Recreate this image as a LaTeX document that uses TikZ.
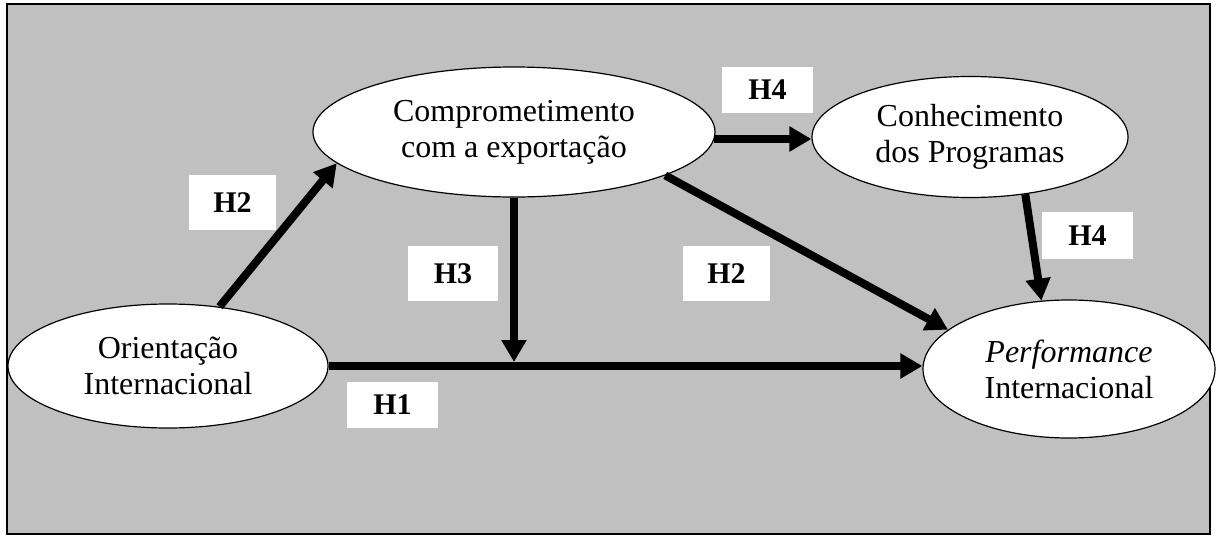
\documentclass[tikz,border=0pt]{standalone}
\usepackage{fontspec}
\setmainfont{Liberation Serif}
\usetikzlibrary{arrows.meta,shapes.geometric}
\definecolor{panel}{HTML}{C0C0C0}
\begin{document}
\begin{tikzpicture}[x=1pt,y=-1pt,
  construct/.style={ellipse, draw=black, line width=1.2pt, fill=white,
    inner sep=0pt, align=center, font=\fontsize{32}{36}\selectfont},
  hyp/.style={fill=white, inner sep=0pt, font=\fontsize{30}{32}\selectfont\bfseries},
  link/.style={line width=8pt, -{Triangle[width=24pt,length=22pt]}},
]
\useasboundingbox (0,0) rectangle (1216,536);
% grey panel with frame
\draw[fill=panel, line width=1.5pt] (7,4) rectangle (1210,534);

% constructs
\node[construct, minimum width=320pt, minimum height=124pt] (orient) at (168,366)
  {Orientação\\Internacional};
\node[construct, minimum width=402pt, minimum height=130pt] (comp) at (514,132)
  {Comprometimento\\com a exportação};
\node[construct, minimum width=316pt, minimum height=121pt] (know) at (970,137)
  {Conhecimento\\dos Programas};
\node[construct, minimum width=292pt, minimum height=138pt] (perf) at (1069,369)
  {\textit{Performance}\\Internacional};

% hypothesised paths
\coordinate (meet) at (comp.south |- orient.east);
\draw[link] (orient.49) -- (comp.190);
\draw[link] (orient.east) -- (orient.east -| perf.west);
\draw[link, shorten >=4pt] (comp.south) -- (meet);
\draw[link] (comp.-2.5) -- (comp.-2.5 -| know.west);
\draw[link] (comp.-16.8) -- (perf.162);
\draw[link] (know.-46.7) -- (perf.112);

% hypothesis labels
\node[hyp, minimum width=87pt, minimum height=55pt] (h2a) at (232.5,202.5) {H2};
\node[hyp, minimum width=91pt, minimum height=46pt] (h4a) at (767.5,90) {H4};
\node[hyp, minimum width=90pt, minimum height=55pt] (h3) at (453,273.5) {H3};
\node[hyp, minimum width=87pt, minimum height=55pt] (h2b) at (726.5,273.5) {H2};
\node[hyp, minimum width=91pt, minimum height=46pt] (h1) at (392.5,405) {H1};
\node[hyp, minimum width=91pt, minimum height=47pt] (h4b) at (1087.5,235.5) {H4};
\end{tikzpicture}
\end{document}
